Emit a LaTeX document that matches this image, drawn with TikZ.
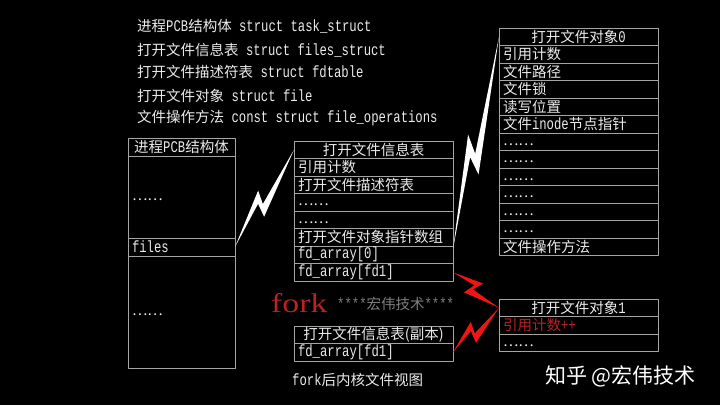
\documentclass[tikz,border=0pt]{standalone}
\usepackage{fontspec}
\usetikzlibrary{positioning,calc}
\newfontfamily\zhfont{Noto Sans CJK SC}
\newfontfamily\ltfont[Scale=1.12, FakeStretch=0.755]{Liberation Mono}
\newfontfamily\forkfont[FakeStretch=1.25]{Liberation Serif}
\newcommand\lt[1]{{\ltfont#1}}
\newcommand\etc{\smash{\raisebox{-0.24em}{……}}}
\definecolor{edge}{RGB}{165,165,165}
\definecolor{txt}{RGB}{235,235,235}
\definecolor{mark}{RGB}{185,35,35}
\definecolor{boltred}{RGB}{240,20,20}
\definecolor{stamp}{RGB}{125,125,125}
\tikzset{
  cell/.style={draw=edge, line width=0.8pt, outer sep=0pt, inner xsep=4pt, inner ysep=0pt,
    text width=151pt, minimum height=17.5pt, align=left, text=txt},
  head/.style={cell, align=center},
  label/.style={anchor=west, inner sep=0pt, text=txt},
}
% zigzag from #1 to #2
\newcommand\bolt[3]{%
  \fill[#3] (#1) -- ($(#1)!0.53!(#2)!9.5pt!90:(#2)$) -- ($(#1)!0.45!(#2)!1.5pt!-90:(#2)$)
    -- (#2) -- ($(#1)!0.36!(#2)!9.2pt!-90:(#2)$) -- ($(#1)!0.43!(#2)!2.7pt!90:(#2)$) -- cycle;}
\begin{document}
\begin{tikzpicture}[x=1pt, y=-1pt, font=\zhfont\fontsize{14.5}{17}\selectfont, line join=round]
	\fill[black] (0,0) rectangle (720,405);
	\path
	(128,138) coordinate (P)
	(294,141) coordinate (I)
	(499,28) coordinate (F)
	(499,299) coordinate (G)
	(294,326) coordinate (C)
	;
	% legend
	\foreach \y/\t [count=\i] in {26/进程\lt{PCB}结构体\lt{\ struct task\_struct},
		50/打开文件信息表\lt{\ struct files\_struct},
		72/打开文件描述符表\lt{\ struct fdtable},
		96/打开文件对象\lt{\ struct file},
		118/文件操作方法\lt{\ const struct file\_operations}}
		\node[label] (key\i) at (137,\y) {\t};
	% process
	\node[head, text width=99pt, minimum height=18pt, anchor=north west] (pcb0) at (P) {进程\lt{PCB}结构体};
	\node[cell, text width=99pt, minimum height=82pt, below=0pt of pcb0] (pcb1) {\etc};
	\node[cell, text width=99pt, minimum height=18pt, below=0pt of pcb1] (pcb2) {\lt{files}};
	\node[cell, text width=99pt, minimum height=112pt, below=0pt of pcb2] (pcb3) {\etc};
	% files_struct
	\node[head, anchor=north west] (inf0) at (I) {打开文件信息表};
	\foreach \t [count=\i, evaluate=\i as \j using int(\i-1)] in {引用计数, 打开文件描述符表, \etc, \etc,
		打开文件对象指针数组, \lt{fd\_array[0]}, \lt{fd\_array[fd1]}}
		\node[cell, below=0pt of inf\j] (inf\i) {\t};
	% file 0
	\node[head, anchor=north west] (fa0) at (F) {打开文件对象\lt{0}};
	\foreach \t [count=\i, evaluate=\i as \j using int(\i-1)] in {引用计数, 文件路径, 文件锁, 读写位置,
		文件\lt{inode}节点指针, \etc, \etc, \etc, \etc, \etc, \etc, 文件操作方法}
		\node[cell, below=0pt of fa\j] (fa\i) {\t};
	% file 1
	\node[head, anchor=north west] (fb0) at (G) {打开文件对象\lt{1}};
	\node[cell, text=mark, below=0pt of fb0] (fb1) {引用计数\lt{++}};
	\node[cell, below=0pt of fb1] (fb2) {\etc};
	% copy
	\node[head, anchor=north west] (cp0) at (C) {打开文件信息表(副本)};
	\node[cell, below=0pt of cp0] (cp1) {\lt{fd\_array[fd1]}};
	% texts
	\node[anchor=base west, inner sep=0pt, text=mark, font=\forkfont\fontsize{27}{30}\selectfont] (fork) at (271,312) {fork};
	\node[label, text=stamp] (stamp) at (337,304) {\lt{****}宏伟技术\lt{****}};
	\node[label] (cap) at (292,380) {\lt{fork}后内核文件视图};
	\node[label, text=white, font=\zhfont\fontsize{21}{24}\selectfont] (zhihu) at (545,376) {知乎 @宏伟技术};
	% links
	\coordinate (tip) at ([yshift=-3pt]inf6.north east);
	\bolt{pcb2.east}{inf0.west}{white}
	\bolt{tip}{fa0.west}{white}
	\bolt{inf7.east}{fb0.west}{boltred}
	\bolt{cp1.east}{fb0.west}{boltred}
\end{tikzpicture}
\end{document}
